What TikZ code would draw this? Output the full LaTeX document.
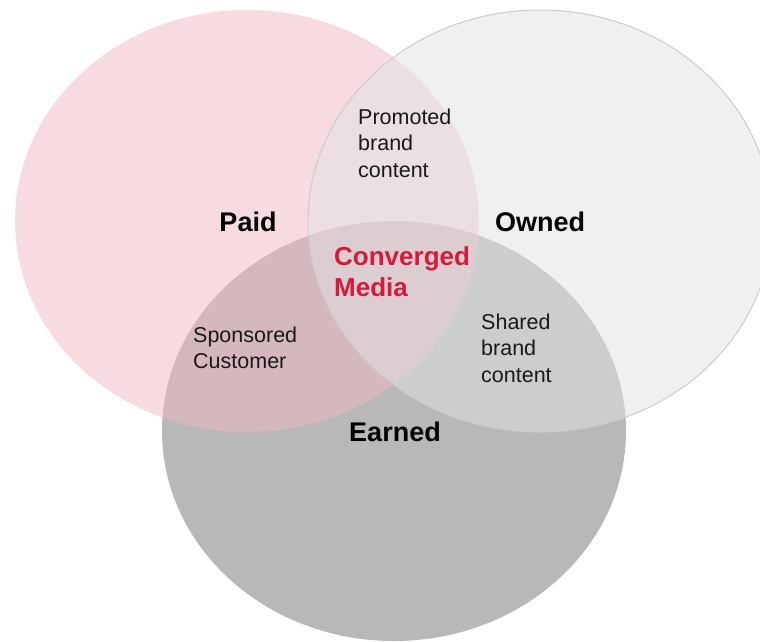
\documentclass[tikz,border=0pt]{standalone}
\usepackage{fontspec}
\setmainfont{Liberation Sans}
\definecolor{paidpink}{RGB}{243,185,197}
\definecolor{ownedgrey}{RGB}{225,227,227}
\definecolor{earnedgrey}{RGB}{184,184,184}
\definecolor{convred}{RGB}{214,26,60}
\tikzset{
	setname/.style={font=\fontsize{27}{31}\selectfont\bfseries, inner sep=0pt, align=left},
	overlap/.style={font=\fontsize{21.5}{26.5}\selectfont, align=left, anchor=west, inner sep=0pt, text=black!90}
}

\begin{document}
\begin{tikzpicture}[x=1pt,y=-1pt]
		\clip(0,0) rectangle (760,641);
		\fill[white](0,0) rectangle (760,641);
		% the three media circles
		\fill[earnedgrey](394,431) ellipse(232 and 210);
		\fill[paidpink, fill opacity=0.5](247,221) ellipse(232 and 211);
		\fill[ownedgrey, fill opacity=0.5](540,221) ellipse(232 and 211);
		\draw[black!20, line width=1pt](540,221) ellipse(232 and 211);
		% labels
		\node[setname] (paid) at (248,222) {Paid};
		\node[setname] (owned) at (540,222) {Owned};
		\node[setname] (earned) at (395,432) {Earned};
		\node[setname, font=\fontsize{26}{31}\selectfont\bfseries, anchor=west, text=convred] (converged) at (334,271.5) {Converged\\Media};
		\node[overlap] (promoted) at (358,143) {Promoted\\brand\\content};
		\node[overlap] (sponsored) at (193,348) {Sponsored\\Customer};
		\node[overlap] (shared) at (481,348) {Shared\\brand\\content};
	\end{tikzpicture}
\end{document}
